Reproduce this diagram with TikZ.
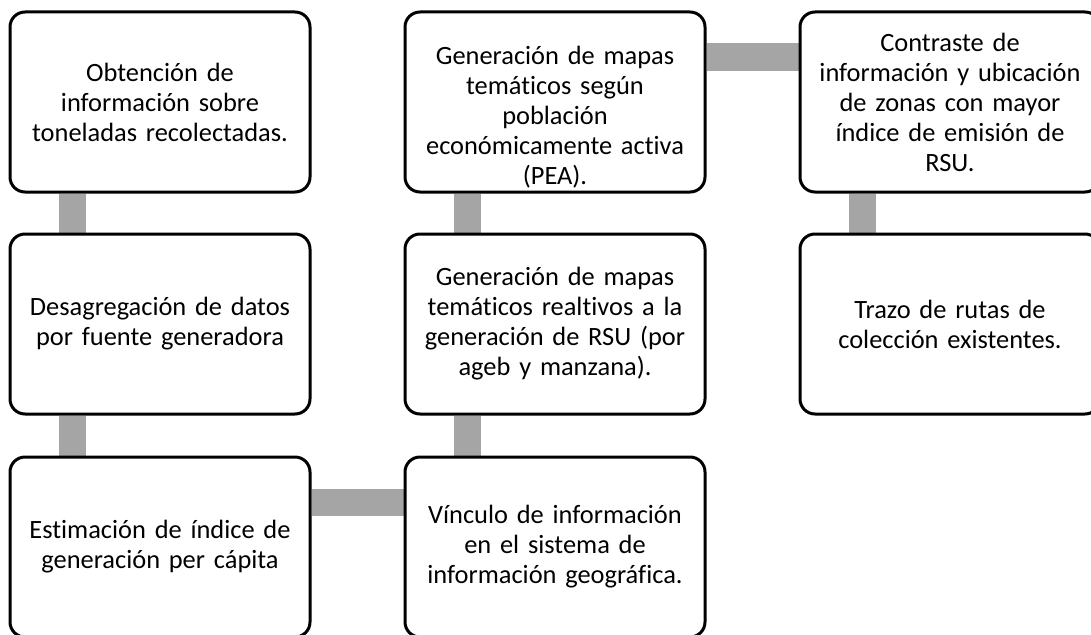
\documentclass[tikz,border=0pt]{standalone}
\usepackage{fontspec}
\setmainfont{Carlito}[Ligatures=NoCommon]
\usetikzlibrary{backgrounds}
\definecolor{linkgray}{HTML}{A5A5A5}
\tikzset{
  stepbox/.style={draw=black, line width=3pt, rounded corners=15pt, fill=white,
    minimum width=300pt, minimum height=180pt, text width=292pt, align=center,
    inner sep=0pt, font=\fontsize{26.4}{30}\selectfont},
  link/.style={draw=linkgray, line width=27pt}
}
\begin{document}
\begin{tikzpicture}[x=1pt,y=-1pt]
  \useasboundingbox (0,0) rectangle (1091,634);
  \node[stepbox] (1a) at (160,102) {Obtención de\\información sobre\\toneladas recolectadas.};
  \node[stepbox] (2a) at (160,324) {Desagregación de datos\\por fuente generadora};
  \node[stepbox] (3a) at (160,547) {Estimación de índice de\\generación per cápita};
  \node[stepbox] (1b) at (555,102) {\rule{0pt}{48pt}Generación de mapas\\temáticos según\\población\\económicamente activa\\(PEA).};
  \node[stepbox] (2b) at (555,324) {Generación de mapas\\temáticos realtivos a la\\generación de RSU (por\\ageb y manzana).};
  \node[stepbox] (3b) at (555,547) {Vínculo de información\\en el sistema de\\información geográfica.};
  \node[stepbox] (1c) at (950,102) {Contraste de\\información y ubicación\\de zonas con mayor\\índice de emisión de\\RSU.};
  \node[stepbox] (2c) at (950,324) {Trazo de rutas de\\colección existentes.};
  \begin{scope}[on background layer]
    \draw [link] ([xshift=-87.5pt]1a.south) -- ([xshift=-87.5pt]2a.north);
    \draw [link] ([xshift=-87.5pt]2a.south) -- ([xshift=-87.5pt]3a.north);
    \draw [link] ([yshift=45pt]3a.east) -- ([yshift=45pt]3b.west);
    \draw [link] ([xshift=-87.5pt]3b.north) -- ([xshift=-87.5pt]2b.south);
    \draw [link] ([xshift=-87.5pt]2b.north) -- ([xshift=-87.5pt]1b.south);
    \draw [link] ([yshift=45pt]1b.east) -- ([yshift=45pt]1c.west);
    \draw [link] ([xshift=-87.5pt]1c.south) -- ([xshift=-87.5pt]2c.north);
  \end{scope}
\end{tikzpicture}
\end{document}
